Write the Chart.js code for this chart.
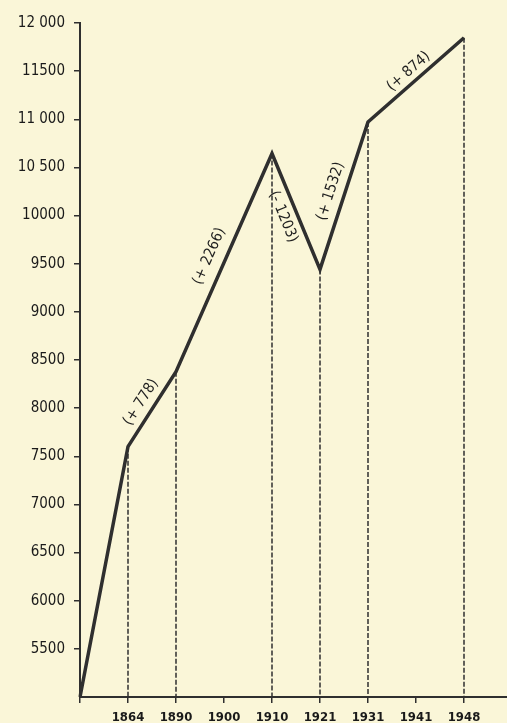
<!DOCTYPE html>
<html>
<head>
<meta charset="utf-8">
<script src="https://cdn.jsdelivr.net/npm/chart.js@4.4.1/dist/chart.umd.min.js"></script>
<style>
  html, body { margin: 0; padding: 0; background: #faf6d8; overflow: hidden; }
  #wrap { position: relative; width: 519px; height: 723px; }
</style>
</head>
<body>
<div id="wrap"><canvas id="chartPop"></canvas></div>
<script>
// categories along the bottom ('' = origin / right end, no label)
const years = ['', '1864', '1890', '1900', '1910', '1921', '1931', '1941', '1948', ''];
// population (null = no census point, line passes through)
const population = [5000, 7600, 8378, null, 10644, 9441, 10973, null, 11847, null];
// handwritten change labels, one per segment between census points
const changes = ['', '', '(+ 778)', '(+ 2266)', '(- 1203)', '(+ 1532)', '(+ 874)'];
// y tick labels as printed
const yTickValues = [5500, 6000, 6500, 7000, 7500, 8000, 8500, 9000, 9500, 10000, 10500, 11000, 11500, 12000];
const yTickLabels = ['5500', '6000', '6500', '7000', '7500', '8000', '8500', '9000', '9500', '10000', '10 500', '11 000', '11500', '12 000'];

// perpendicular offset (px) of each change label from its segment
const labelOffset = [0, 0, 13, 16, -14, 14, 11];

const ink = '#2f2f2f';

const dropLines = {
  id: 'dropLines',
  beforeDatasetsDraw(chart) {
    const ctx = chart.ctx;
    const meta = chart.getDatasetMeta(0);
    const bottom = chart.chartArea.bottom;
    ctx.save();
    ctx.strokeStyle = ink;
    ctx.lineWidth = 1.5;
    ctx.setLineDash([5, 2]);
    meta.data.forEach((pt, i) => {
      if (i === 0 || population[i] === null) return;
      ctx.beginPath();
      ctx.moveTo(pt.x, pt.y);
      ctx.lineTo(pt.x, bottom);
      ctx.stroke();
    });
    ctx.restore();
  }
};

const segmentLabels = {
  id: 'segmentLabels',
  afterDatasetsDraw(chart) {
    const ctx = chart.ctx;
    const meta = chart.getDatasetMeta(0);
    const pts = meta.data.filter((p, i) => population[i] !== null);
    ctx.save();
    ctx.fillStyle = '#1f1f1f';
    ctx.font = '15px "DejaVu Sans Condensed", "DejaVu Sans", sans-serif';
    ctx.textAlign = 'center';
    ctx.textBaseline = 'middle';
    for (let s = 1; s < pts.length; s++) {
      const text = changes[s];
      if (!text) continue;
      const a = pts[s - 1], b = pts[s];
      const ang = Math.atan2(b.y - a.y, b.x - a.x);
      const mx = (a.x + b.x) / 2, my = (a.y + b.y) / 2;
      const off = labelOffset[s];
      const nx = Math.sin(ang) * off, ny = -Math.cos(ang) * off;
      ctx.save();
      ctx.translate(mx + nx, my + ny);
      ctx.rotate(ang);
      ctx.fillText(text, 0, 0);
      ctx.restore();
    }
    ctx.restore();
  }
};

new Chart(document.getElementById('chartPop').getContext('2d'), {
  type: 'line',
  data: {
    labels: years,
    datasets: [{
      data: population,
      borderColor: ink,
      borderWidth: 3.5,
      pointRadius: 0,
      tension: 0,
      spanGaps: true,
      fill: false
    }]
  },
  options: {
    responsive: true,
    maintainAspectRatio: false,
    animation: false,
    layout: { padding: { top: 23, right: 0, bottom: 0, left: 0 } },
    plugins: { legend: { display: false }, tooltip: { enabled: false } },
    scales: {
      x: {
        offset: false,
        border: { color: ink, width: 2 },
        grid: { drawOnChartArea: false, color: ink, lineWidth: 1.5, tickLength: 6 },
        ticks: {
          color: '#1a1a1a',
          font: { family: '"DejaVu Sans Condensed", "DejaVu Sans", sans-serif', size: 13, weight: 'bold' },
          padding: 7,
          maxRotation: 0,
          autoSkip: false
        },
        afterFit(scale) { scale.height = 26; }
      },
      y: {
        min: 5000,
        max: 12000,
        border: { color: ink, width: 2 },
        grid: { drawOnChartArea: false, color: ink, lineWidth: 1.5, tickLength: 6 },
        afterBuildTicks(scale) {
          scale.ticks = yTickValues.map(v => ({ value: v }));
        },
        ticks: {
          color: '#1a1a1a',
          font: { family: '"DejaVu Sans Condensed", "DejaVu Sans", sans-serif', size: 15 },
          padding: 9,
          callback(value) {
            const k = yTickValues.indexOf(value);
            return k >= 0 ? yTickLabels[k] : '';
          }
        },
        afterFit(scale) { scale.width = 80; }
      }
    }
  },
  plugins: [dropLines, segmentLabels]
});
</script>
</body>
</html>
